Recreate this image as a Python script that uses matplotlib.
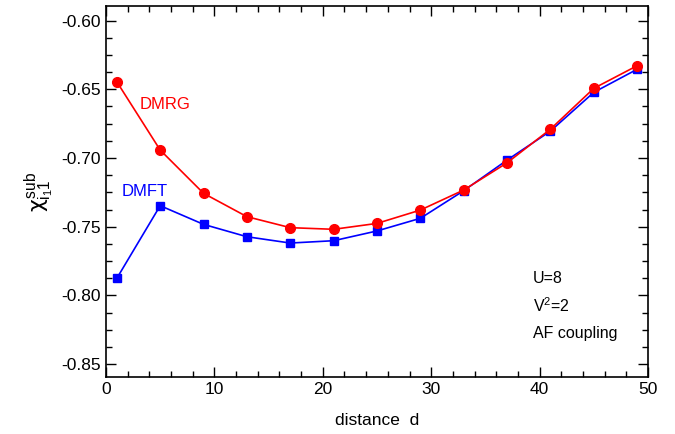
import matplotlib
matplotlib.use("Agg")
import matplotlib.pyplot as plt
from matplotlib.ticker import MultipleLocator, FormatStrFormatter

d = [1, 5, 9, 13, 17, 21, 25, 29, 33, 37, 41, 45, 49]
dmrg = [-0.6445, -0.6942, -0.7257, -0.7427, -0.7507, -0.7519, -0.7476, -0.7379, -0.7233, -0.7035, -0.6790, -0.6493, -0.6328]
dmft = [-0.7876, -0.7347, -0.7483, -0.7573, -0.7619, -0.7602, -0.7531, -0.7439, -0.7238, -0.7015, -0.6804, -0.6522, -0.6354]

plt.rcParams['font.family'] = ['Liberation Sans', 'DejaVu Sans']
plt.rcParams['mathtext.fontset'] = 'custom'
plt.rcParams['mathtext.rm'] = 'Liberation Sans'
plt.rcParams['mathtext.it'] = 'DejaVu Sans'
plt.rcParams['mathtext.bf'] = 'Liberation Sans:bold'

fig = plt.figure(figsize=(6.75, 4.34), dpi=100)
ax = fig.add_axes([0.157, 0.132, 0.803, 0.854])

ax.plot(d, dmft, color='#0000ff', marker='s', markersize=5.5, linewidth=1.2, zorder=3)
ax.plot(d, dmrg, color='#ff0000', marker='o', markersize=7, linewidth=1.2, zorder=4)

ax.set_xlim(0, 50)
ax.set_ylim(-0.8592, -0.5894)
ax.xaxis.set_major_locator(MultipleLocator(10))
ax.xaxis.set_minor_locator(MultipleLocator(2))
ax.yaxis.set_major_locator(MultipleLocator(0.05))
ax.yaxis.set_minor_locator(MultipleLocator(0.0125))
ax.yaxis.set_major_formatter(FormatStrFormatter('%.2f'))
ax.tick_params(which='both', direction='in', top=True, right=True, labelsize=12.5, width=1.0)
ax.tick_params(which='major', length=7)
ax.tick_params(which='minor', length=4)
for s in ax.spines.values():
    s.set_linewidth(1.2)

ax.set_xlabel('distance  d', fontsize=12.5, labelpad=12)
ax.set_ylabel(r'$\chi^{\mathrm{sub}}_{\mathrm{i_1 1}}$', fontsize=16, labelpad=4)

ax.text(3.1, -0.6608, 'DMRG', color='#ff0000', fontsize=12, va='center', ha='left')
ax.text(1.4, -0.7247, 'DMFT', color='#0000ff', fontsize=12, va='center', ha='left')
ax.text(39.4, -0.7874, 'U=8', fontsize=11.5, va='center', ha='left')
ax.text(39.4, -0.8078, r'V$^2$=2', fontsize=11.5, va='center', ha='left')
ax.text(39.4, -0.8275, 'AF coupling', fontsize=11.5, va='center', ha='left')

fig.savefig('out.png', dpi=100)
